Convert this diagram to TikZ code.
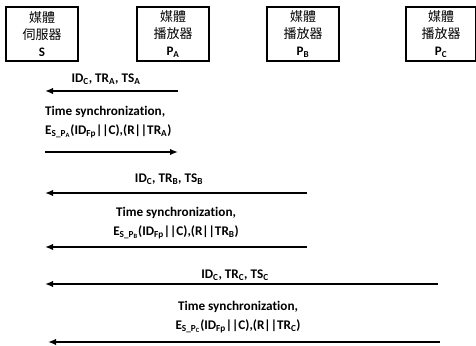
\documentclass[tikz,border=0pt]{standalone}
\usepackage{fontspec}
\setmainfont[Ligatures=NoCommon]{Carlito}
\newfontfamily\cjk{Noto Sans CJK TC}
\usetikzlibrary{arrows.meta}
\tikzset{
  entity/.style={draw, line width=1.1pt, minimum width=72pt, minimum height=54pt, inner sep=0pt, align=center, font=\fontsize{13}{17}\selectfont},
  msg/.style={line width=1.6pt, -{Latex[length=8pt,width=6.5pt]}},
  lbl/.style={inner sep=0pt, font=\fontsize{13.2}{19}\selectfont\bfseries},
  lbll/.style={lbl, align=left},
  lblc/.style={lbl, align=center}
}
\begin{document}
\begin{tikzpicture}[x=1pt,y=-1pt]
\useasboundingbox (0,0) rectangle (476,345);
\node[entity] (S) at (42,34) {{\cjk 媒體}\\{\cjk 伺服器}\\\textbf{S}};
\node[entity] (PA) at (173,34) {{\cjk 媒體}\\{\cjk 播放器}\\\textbf{P\textsubscript{A}}};
\node[entity] (PB) at (303,34) {{\cjk 媒體}\\{\cjk 播放器}\\\textbf{P\textsubscript{B}}};
\node[entity, minimum width=70pt] (PC) at (441,34) {{\cjk 媒體}\\{\cjk 播放器}\\\textbf{P\textsubscript{C}}};

% coordinates
\coordinate (a1s) at (178,91);  \coordinate (a1e) at (45,91);
\coordinate (a2s) at (45,152);  \coordinate (a2e) at (178,152);
\coordinate (a3s) at (307,193); \coordinate (a3e) at (45,193);
\coordinate (a4s) at (307,247); \coordinate (a4e) at (45,247);
\coordinate (a5s) at (438,284); \coordinate (a5e) at (45,284);
\coordinate (a6s) at (440,342); \coordinate (a6e) at (48,342);

\draw[msg] (a1s) -- (a1e);
\draw[msg] (a2s) -- (a2e);
\draw[msg] (a3s) -- (a3e);
\draw[msg] (a4s) -- (a4e);
\draw[msg] (a5s) -- (a5e);
\draw[msg] (a6s) -- (a6e);

\node[lbl] (t1) at (106,79) {ID\textsubscript{C}, TR\textsubscript{A}, TS\textsubscript{A}};
\node[lbll, anchor=west] (t2) at (45,122) {Time synchronization,\\E\textsubscript{S\_P\textsubscript{A}}(ID\textsubscript{Fp}||C),(R||TR\textsubscript{A})};
\node[lbl] (t3) at (169,179) {ID\textsubscript{C}, TR\textsubscript{B}, TS\textsubscript{B}};
\node[lblc] (t4) at (176,223) {Time synchronization,\\E\textsubscript{S\_P\textsubscript{B}}(ID\textsubscript{Fp}||C),(R||TR\textsubscript{B})};
\node[lbl] (t5) at (235,275) {ID\textsubscript{C}, TR\textsubscript{C}, TS\textsubscript{C}};
\node[lblc] (t6) at (238,317) {Time synchronization,\\E\textsubscript{S\_P\textsubscript{C}}(ID\textsubscript{Fp}||C),(R||TR\textsubscript{C})};
\end{tikzpicture}
\end{document}
